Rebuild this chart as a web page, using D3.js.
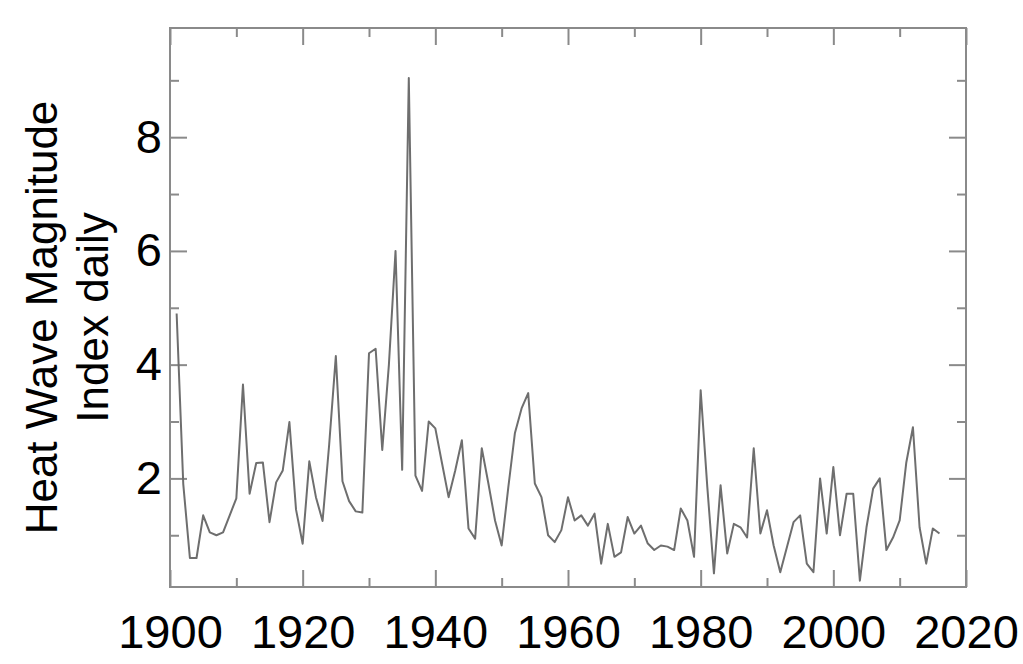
<!DOCTYPE html>
<html>
<head>
<meta charset="utf-8">
<script src="https://cdn.jsdelivr.net/npm/d3@7"></script>
<style>
  body { margin: 0; background: #fff; }
  svg text { font-family: "Liberation Sans", Arial, sans-serif; fill: #000; }
</style>
</head>
<body>
<script>
// annual values 1901-2016
var years = d3.range(1901, 2017);
var hwmid = [
  4.9, 1.9, 0.6, 0.6, 1.35, 1.05, 1.0, 1.05, 1.35, 1.65,
  3.65, 1.73, 2.27, 2.28, 1.23, 1.93, 2.14, 2.99, 1.45, 0.85,
  2.3, 1.67, 1.25, 2.6, 4.15, 1.95, 1.6, 1.42, 1.4, 4.2,
  4.28, 2.5, 4.0, 6.0, 2.15, 9.04, 2.05, 1.78, 3.0, 2.88,
  2.27, 1.67, 2.14, 2.67, 1.12, 0.94, 2.53, 1.91, 1.26, 0.82,
  1.84, 2.8, 3.23, 3.5, 1.91, 1.67, 1.0, 0.88, 1.09, 1.67,
  1.26, 1.35, 1.17, 1.38, 0.5, 1.2, 0.62, 0.7, 1.32, 1.03,
  1.17, 0.86, 0.74, 0.82, 0.8, 0.74, 1.47, 1.26, 0.62, 3.55,
  1.85, 0.33, 1.88, 0.68, 1.2, 1.14, 0.96, 2.53, 1.03, 1.44,
  0.82, 0.35, 0.79, 1.23, 1.35, 0.5, 0.35, 2.0, 1.03, 2.2,
  1.0, 1.73, 1.73, 0.2, 1.14, 1.82, 2.0, 0.74, 0.96, 1.26,
  2.28, 2.9, 1.14, 0.5, 1.12, 1.03
];
var xMajor = [1900, 1920, 1940, 1960, 1980, 2000, 2020];
var xMinor = [1910, 1930, 1950, 1970, 1990, 2010];
var yMajor = [2, 4, 6, 8];
var yMinor = [1, 3, 5, 7, 9];
var titleLines = ["Heat Wave Magnitude", "Index daily"];

var margin = {top: 28, right: 57, bottom: 77, left: 170},
    width = 1023 - margin.left - margin.right,
    height = 664 - margin.top - margin.bottom;

var x = d3.scaleLinear().domain([1900, 2020]).range([0, width]);
var y = d3.scaleLinear().domain([0.09, 9.92]).range([height, 0]);

var svg = d3.select("body").append("svg")
    .attr("width", 1023)
    .attr("height", 664)
  .append("g")
    .attr("transform", "translate(" + margin.left + "," + margin.top + ")");

var frameColor = "#8a8a8a";

function styleAxis(g) {
  g.select(".domain").remove();
  g.selectAll(".tick line").attr("stroke", frameColor).attr("stroke-width", 2);
  g.selectAll(".tick text").style("font-size", "47px").attr("fill", "#000");
}

// bottom
svg.append("g").attr("transform", "translate(0," + height + ")")
  .call(d3.axisBottom(x).tickValues(xMajor).tickFormat(d3.format("d")).tickSize(-17).tickPadding(28))
  .call(styleAxis);
svg.append("g").attr("transform", "translate(0," + height + ")")
  .call(d3.axisBottom(x).tickValues(xMinor).tickFormat("").tickSize(-9))
  .call(styleAxis);
// top
svg.append("g")
  .call(d3.axisTop(x).tickValues(xMajor).tickFormat("").tickSize(-17))
  .call(styleAxis);
svg.append("g")
  .call(d3.axisTop(x).tickValues(xMinor).tickFormat("").tickSize(-9))
  .call(styleAxis);
// left
svg.append("g")
  .call(d3.axisLeft(y).tickValues(yMajor).tickFormat(d3.format("d")).tickSize(-17).tickPadding(8))
  .call(styleAxis);
svg.append("g")
  .call(d3.axisLeft(y).tickValues(yMinor).tickFormat("").tickSize(-9))
  .call(styleAxis);
// right
svg.append("g").attr("transform", "translate(" + width + ",0)")
  .call(d3.axisRight(y).tickValues(yMajor).tickFormat("").tickSize(-17))
  .call(styleAxis);
svg.append("g").attr("transform", "translate(" + width + ",0)")
  .call(d3.axisRight(y).tickValues(yMinor).tickFormat("").tickSize(-9))
  .call(styleAxis);

svg.append("rect")
    .attr("width", width)
    .attr("height", height)
    .attr("fill", "none")
    .attr("stroke", frameColor)
    .attr("stroke-width", 2);

var line = d3.line()
    .x(function(d, i) { return x(years[i]); })
    .y(function(d) { return y(d); });

svg.append("path")
    .datum(hwmid)
    .attr("fill", "none")
    .attr("stroke", "#6e6e6e")
    .attr("stroke-width", 2)
    .attr("stroke-linejoin", "round")
    .attr("d", line);

// y title, two lines
var title = svg.append("text")
    .attr("transform", "translate(" + (-margin.left + 57) + "," + (height / 2 + 10) + ") rotate(-90)")
    .attr("text-anchor", "middle")
    .style("font-size", "44px");
title.selectAll("tspan")
    .data(titleLines)
  .enter().append("tspan")
    .attr("x", 0)
    .attr("dy", function(d, i) { return i === 0 ? 0 : "1.15em"; })
    .text(function(d) { return d; });
</script>
</body>
</html>
